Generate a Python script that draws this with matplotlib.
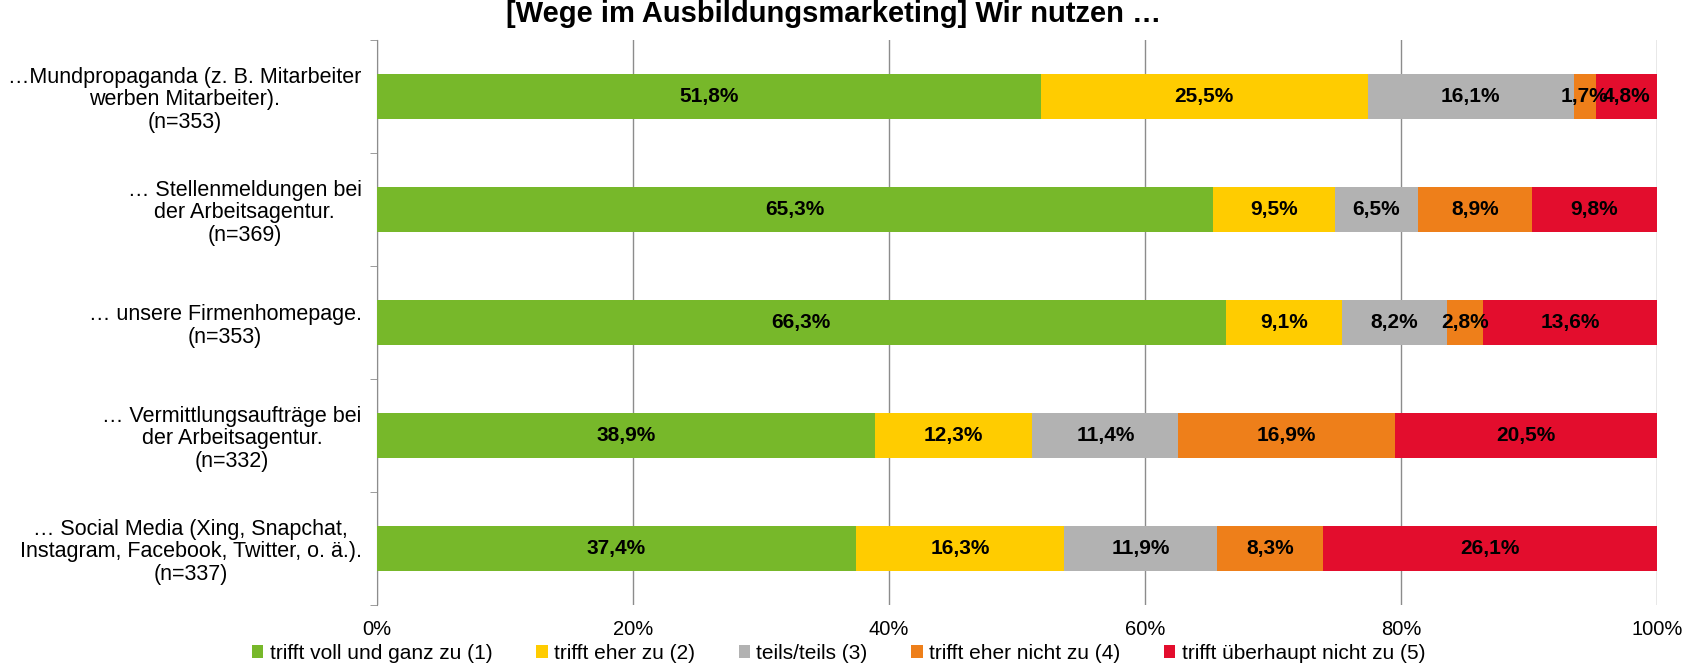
import matplotlib
matplotlib.use("Agg")
import matplotlib.pyplot as plt
import numpy as np

plt.rcParams['font.family'] = ['Liberation Sans', 'DejaVu Sans']

categories = [
    "…Mundpropaganda (z. B. Mitarbeiter\nwerben Mitarbeiter).\n(n=353)",
    "… Stellenmeldungen bei\nder Arbeitsagentur.\n(n=369)",
    "… unsere Firmenhomepage.\n(n=353)",
    "… Vermittlungsaufträge bei\nder Arbeitsagentur.\n(n=332)",
    "… Social Media (Xing, Snapchat,\nInstagram, Facebook, Twitter, o. ä.).\n(n=337)",
]
series_names = ["trifft voll und ganz zu (1)", "trifft eher zu (2)", "teils/teils (3)",
                "trifft eher nicht zu (4)", "trifft überhaupt nicht zu (5)"]
voll = [51.8, 65.3, 66.3, 38.9, 37.4]
eher = [25.5, 9.5, 9.1, 12.3, 16.3]
teils = [16.1, 6.5, 8.2, 11.4, 11.9]
eher_nicht = [1.7, 8.9, 2.8, 16.9, 8.3]
gar_nicht = [4.8, 9.8, 13.6, 20.5, 26.1]

colors = ['#77B82A', '#FFCC00', '#B2B2B2', '#EE7F1A', '#E30D2D']

data = np.array([voll, eher, teils, eher_nicht, gar_nicht])
shares = data / data.sum(axis=0) * 100  # 100% stacked like in Excel

fig = plt.figure(figsize=(17.01, 6.68), dpi=100)
ax = fig.add_axes([0.2216, 0.094, 0.7526, 0.846])

y = np.arange(len(categories))
left = np.zeros(len(categories))
for i in range(len(series_names)):
    ax.barh(y, shares[i], left=left, height=0.4, color=colors[i],
            label=series_names[i], zorder=3)
    for j in range(len(categories)):
        ax.text(left[j] + shares[i][j] / 2, y[j], f"{data[i][j]:.1f}%".replace('.', ','),
                ha='center', va='center', fontsize=15, fontweight='bold', zorder=4)
    left += shares[i]

ax.set_xlim(0, 100)
ax.set_ylim(len(categories) - 0.5, -0.5)
ax.set_xticks([0, 20, 40, 60, 80, 100])
ax.set_xticklabels(['0%', '20%', '40%', '60%', '80%', '100%'], fontsize=14.5)
ax.xaxis.grid(True, color='#8c8c8c', linewidth=1, zorder=0)
ax.tick_params(axis='x', length=0, pad=11)

ax.set_yticks(y)
ax.set_yticklabels(categories, fontsize=15.5, ha='right', multialignment='center',
                   linespacing=1.1)
ax.tick_params(axis='y', length=0, pad=11)
ax.set_yticks(np.arange(len(categories) + 1) - 0.5, minor=True)
ax.tick_params(axis='y', which='minor', length=5, color='#8c8c8c')

for s in ['top', 'right', 'bottom']:
    ax.spines[s].set_visible(False)
ax.spines['left'].set_color('#8c8c8c')

fig.suptitle("[Wege im Ausbildungsmarketing] Wir nutzen …", fontsize=21,
             fontweight='bold', x=0.49, y=1.0)

fig.legend(loc='lower center', bbox_to_anchor=(0.493, -0.02), ncol=5, frameon=False,
           fontsize=15, handlelength=0.55, handleheight=0.55, handletextpad=0.3,
           columnspacing=2.1)

fig.savefig("out.png", dpi=100)
